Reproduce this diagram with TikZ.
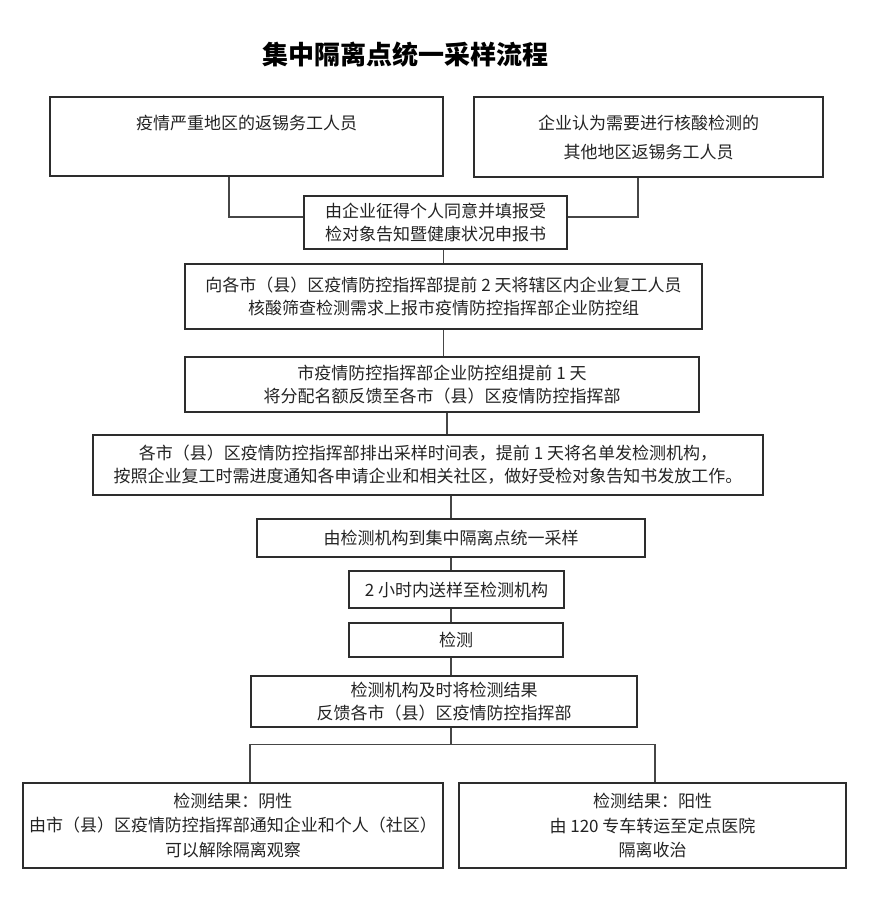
\documentclass[tikz,border=0pt]{standalone}
\usepackage{fontspec}
\newfontfamily\cjk{Noto Sans CJK SC}
\usetikzlibrary{positioning, calc}
\definecolor{boxline}{RGB}{45,45,45}
\definecolor{linkline}{RGB}{70,70,70}
\definecolor{txtgray}{RGB}{35,35,35}
\tikzset{
  box/.style={rectangle,draw=boxline,line width=1.6pt,text=txtgray,align=center,
    inner sep=0pt,font=\cjk\fontsize{17}{23}\selectfont},
  tallbox/.style={box,font=\cjk\fontsize{17}{29}\selectfont},
  resbox/.style={box,line width=2pt,font=\cjk\fontsize{17}{24.5}\selectfont},
  wh/.style 2 args={minimum width=#1pt,minimum height=#2pt},
  link/.style={line width=1.3pt,color=linkline},
  title/.style={font=\cjk\bfseries\fontsize{26}{30}\selectfont,text=black}
}

\begin{document}
\begin{tikzpicture}[x=1pt,y=-1pt]
  \useasboundingbox (0,0) rectangle (869,900);

  % ── Title ─────────────────────────────────────────────────────────────────
  \node[title] (ttl) at (405,55) {集中隔离点统一采样流程};

  % ── Who is sampled ────────────────────────────────────────────────────────
  \node[tallbox,line width=2pt,wh={393}{79}] (src1) at (246.5,136.5)
    {疫情严重地区的返锡务工人员\\\mbox{}};
  \node[tallbox,wh={349}{80}] (src2) at (648.5,137)
    {企业认为需要进行核酸检测的\\其他地区返锡务工人员};
  \node[box,wh={263}{53}] (consent) at (435.5,222.5)
    {由企业征得个人同意并填报受\\检对象告知暨健康状况申报书};

  % ── Reporting chain ───────────────────────────────────────────────────────
  \node[box,wh={517}{65}] (report) at (443.5,296.5)
    {向各市（县）区疫情防控指挥部提前 2 天将辖区内企业复工人员\\核酸筛查检测需求上报市疫情防控指挥部企业防控组};
  \node[box,wh={514}{55}] (quota) at (442,384.5)
    {市疫情防控指挥部企业防控组提前 1 天\\将分配名额反馈至各市（县）区疫情防控指挥部};
  \node[box,wh={670}{60}] (schedule) at (428,465)
    {各市（县）区疫情防控指挥部排出采样时间表，提前 1 天将名单发检测机构，\\按照企业复工时需进度通知各申请企业和相关社区，做好受检对象告知书发放工作。};

  % ── Sampling and testing ──────────────────────────────────────────────────
  \node[box,wh={388}{38}] (sample) at (451,538) {由检测机构到集中隔离点统一采样};
  \node[box,wh={215}{37}] (deliver) at (456.5,589.5) {2 小时内送样至检测机构};
  \node[box,wh={214}{34}] (test) at (456,640) {检测};
  \node[box,wh={386}{51}] (feedback) at (444,701.5)
    {检测机构及时将检测结果\\反馈各市（县）区疫情防控指挥部};

  % ── Results ───────────────────────────────────────────────────────────────
  \node[resbox,wh={420}{85}] (neg) at (233,825.5)
    {检测结果：阴性\\由市（县）区疫情防控指挥部通知企业和个人（社区）\\可以解除隔离观察};
  \node[resbox,wh={387}{85}] (pos) at (652.5,825.5)
    {检测结果：阳性\\由 120 专车转运至定点医院\\隔离收治};

  % ── Connectors ────────────────────────────────────────────────────────────
  \draw[link] ([xshift=-17.5pt]src1.south) |- ([yshift=5.5pt]consent.west);
  \draw[link] ([xshift=-10.5pt]src2.south) |- ([yshift=5.5pt]consent.east);
  \draw[link] (consent.south -| report.north) -- (report.north);
  \draw[link] (report.south) -- (report.south |- quota.north);
  \draw[link] ([xshift=5pt]quota.south) -- ([xshift=5pt]quota.south |- schedule.north);
  \draw[link] (schedule.south -| sample.north) -- (sample.north);
  \draw[link] (sample.south) -- (sample.south |- deliver.north);
  \draw[link] (deliver.south -| sample.south) -- (test.north -| sample.south);
  \draw[link] (test.south -| sample.south) -- (feedback.north -| sample.south);
  \draw[link] (feedback.south -| sample.south) -- ++(0,17) coordinate (fork);
  \draw[link] (fork) -| ([xshift=17pt]neg.north);
  \draw[link] (fork) -| ([xshift=2.5pt]pos.north);
\end{tikzpicture}
\end{document}
